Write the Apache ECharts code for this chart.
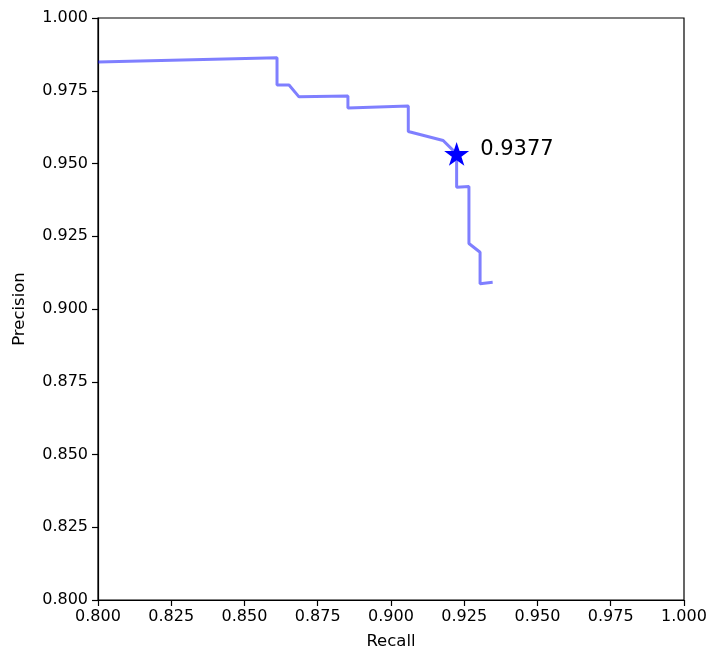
<!DOCTYPE html>
<html>
<head>
<meta charset="utf-8">
<script src="https://cdn.jsdelivr.net/npm/echarts@6/dist/echarts.min.js"></script>
<style>
  html, body { margin: 0; padding: 0; background: #fff; }
  #chart { width: 711px; height: 655px; }
</style>
</head>
<body>
<div id="chart"></div>
<script>
// Precision-recall curve points (recall, precision)
const recall = [0.8000, 0.8611, 0.8611, 0.8652, 0.8686, 0.8853, 0.8853, 0.9059, 0.9059, 0.9178, 0.9224, 0.9224, 0.9266, 0.9266, 0.9304, 0.9304, 0.9347];
const precision = [0.9849, 0.9863, 0.9770, 0.9770, 0.9729, 0.9732, 0.9691, 0.9698, 0.9610, 0.9579, 0.9533, 0.9418, 0.9421, 0.9225, 0.9195, 0.9087, 0.9092];

// Best operating point and its F1 score
const bestRecall = 0.9224;
const bestPrecision = 0.9533;
const bestF1 = 0.9377;

const axisTicks = [0.800, 0.825, 0.850, 0.875, 0.900, 0.925, 0.950, 0.975, 1.000];

// five-pointed star symbol
function starPath() {
  const pts = [];
  for (let i = 0; i < 10; i++) {
    const a = (-90 + 36 * i) * Math.PI / 180;
    const r = i % 2 === 0 ? 100 : 38.2;
    pts.push((100 + r * Math.cos(a)).toFixed(2) + ' ' + (100 + r * Math.sin(a)).toFixed(2));
  }
  return 'path://M' + pts.join(' L') + ' Z';
}

const font = 'DejaVu Sans';
const chart = echarts.init(document.getElementById('chart'), null, { renderer: 'canvas' });

const axisCommon = {
  type: 'value',
  min: axisTicks[0],
  max: axisTicks[axisTicks.length - 1],
  interval: 0.025,
  axisLine: { show: true, onZero: false, lineStyle: { color: '#000', width: 1.2 } },
  axisTick: { show: true, inside: false, length: 6, lineStyle: { color: '#000', width: 1.2 } },
  axisLabel: { color: '#000', fontFamily: font, fontSize: 16, formatter: v => v.toFixed(3) },
  splitLine: { show: false },
  nameLocation: 'middle',
  nameTextStyle: { color: '#000', fontFamily: font, fontSize: 16.5 }
};

chart.setOption({
  animation: false,
  backgroundColor: '#fff',
  grid: { left: 98, right: 27, top: 18, bottom: 54, show: true, borderColor: '#000', borderWidth: 1.2, backgroundColor: 'transparent' },
  xAxis: Object.assign({}, axisCommon, {
    name: 'Recall', nameGap: 33,
    axisLabel: Object.assign({}, axisCommon.axisLabel, { margin: 9 })
  }),
  yAxis: Object.assign({}, axisCommon, {
    name: 'Precision', nameGap: 70,
    axisLabel: Object.assign({}, axisCommon.axisLabel, { margin: 10 })
  }),
  series: [
    {
      type: 'line',
      data: recall.map((r, i) => [r, precision[i]]),
      showSymbol: false,
      clip: true,
      lineStyle: { color: 'rgba(0,0,255,0.5)', width: 3 },
      z: 2
    },
    {
      type: 'scatter',
      data: [[bestRecall, bestPrecision]],
      symbol: starPath(),
      symbolKeepAspect: true,
      symbolSize: 25,
      itemStyle: { color: '#0000ff', opacity: 1 },
      label: {
        show: true,
        position: 'right',
        distance: 11,
        offset: [0, -4],
        formatter: () => bestF1.toFixed(4),
        color: '#000',
        opacity: 1,
        fontFamily: font,
        fontSize: 21
      },
      z: 3
    }
  ]
});
</script>
</body>
</html>
